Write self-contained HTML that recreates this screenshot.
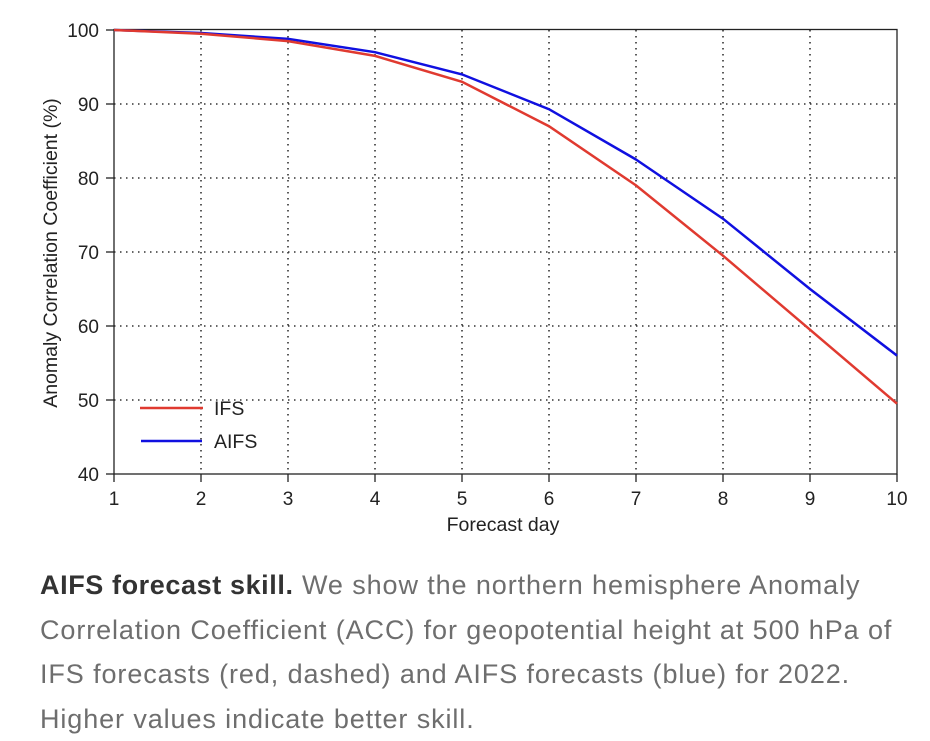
<!DOCTYPE html>
<html><head><meta charset="utf-8"><style>
html,body{margin:0;padding:0;background:#fff;width:930px;height:730px;overflow:hidden}
.cap{position:absolute;left:40px;top:563px;width:900px;font-family:"Liberation Sans",sans-serif;font-size:27px;letter-spacing:0.9px;line-height:44.5px;color:#6e6e6e;white-space:nowrap}
.cap b{color:#333;letter-spacing:0.6px}
</style></head><body>
<svg width="930" height="550" style="position:absolute;left:0;top:0" font-family="Liberation Sans, sans-serif">
<g stroke="#333" stroke-width="1.6" stroke-dasharray="1.5,4.5">
<line x1="201" y1="30" x2="201" y2="474"/><line x1="288" y1="30" x2="288" y2="474"/><line x1="375" y1="30" x2="375" y2="474"/><line x1="462" y1="30" x2="462" y2="474"/><line x1="549" y1="30" x2="549" y2="474"/><line x1="636" y1="30" x2="636" y2="474"/><line x1="723" y1="30" x2="723" y2="474"/><line x1="810" y1="30" x2="810" y2="474"/>
<line x1="114" y1="104" x2="897" y2="104"/><line x1="114" y1="178" x2="897" y2="178"/><line x1="114" y1="252" x2="897" y2="252"/><line x1="114" y1="326" x2="897" y2="326"/><line x1="114" y1="400" x2="897" y2="400"/>
</g>
<rect x="114" y="29.5" width="783" height="444.5" fill="none" stroke="#222" stroke-width="1.3"/>
<g stroke="#222" stroke-width="1.3">
<line x1="106" y1="30" x2="114" y2="30"/><line x1="106" y1="104" x2="114" y2="104"/><line x1="106" y1="178" x2="114" y2="178"/><line x1="106" y1="252" x2="114" y2="252"/><line x1="106" y1="326" x2="114" y2="326"/><line x1="106" y1="400" x2="114" y2="400"/><line x1="106" y1="474" x2="114" y2="474"/>
<line x1="114" y1="474" x2="114" y2="482"/><line x1="201" y1="474" x2="201" y2="482"/><line x1="288" y1="474" x2="288" y2="482"/><line x1="375" y1="474" x2="375" y2="482"/><line x1="462" y1="474" x2="462" y2="482"/><line x1="549" y1="474" x2="549" y2="482"/><line x1="636" y1="474" x2="636" y2="482"/><line x1="723" y1="474" x2="723" y2="482"/><line x1="810" y1="474" x2="810" y2="482"/><line x1="897" y1="474" x2="897" y2="482"/>
</g>
<g font-size="19" fill="#222" text-anchor="end">
<text x="99" y="37">100</text><text x="99" y="111">90</text><text x="99" y="185">80</text><text x="99" y="259">70</text><text x="99" y="333">60</text><text x="99" y="407">50</text><text x="99" y="481">40</text>
</g>
<g font-size="19" fill="#222" text-anchor="middle">
<text x="114" y="505">1</text><text x="201" y="505">2</text><text x="288" y="505">3</text><text x="375" y="505">4</text><text x="462" y="505">5</text><text x="549" y="505">6</text><text x="636" y="505">7</text><text x="723" y="505">8</text><text x="810" y="505">9</text><text x="897" y="505">10</text>
</g>
<text x="503" y="531" font-size="19.5" fill="#222" text-anchor="middle">Forecast day</text>
<text transform="translate(57,253) rotate(-90)" font-size="19.5" fill="#222" text-anchor="middle">Anomaly Correlation Coefficient (%)</text>
<polyline fill="none" stroke="#1010e0" stroke-width="2.5" points="114,30 201,33 288,38.9 375,52.2 462,74.4 549,109.2 636,159.5 723,218.7 810,289 897,355.6"/>
<polyline fill="none" stroke="#e03a30" stroke-width="2.5" points="114,30 201,33.7 288,41.1 375,55.9 462,81.8 549,126.2 636,185.4 723,255.7 810,329.7 897,403.7"/>
<line x1="140" y1="408" x2="203" y2="408" stroke="#e03a30" stroke-width="2.5"/>
<line x1="141" y1="441" x2="202" y2="441" stroke="#1010e0" stroke-width="2.5"/>
<text x="214" y="415" font-size="19.5" fill="#222">IFS</text>
<text x="214" y="448" font-size="19.5" fill="#222">AIFS</text>
</svg>
<div class="cap"><b>AIFS forecast skill.</b> We show the northern hemisphere Anomaly<br>Correlation Coefficient (ACC) for geopotential height at 500 hPa of<br>IFS forecasts (red, dashed) and AIFS forecasts (blue) for 2022.<br>Higher values indicate better skill.</div>
</body></html>
